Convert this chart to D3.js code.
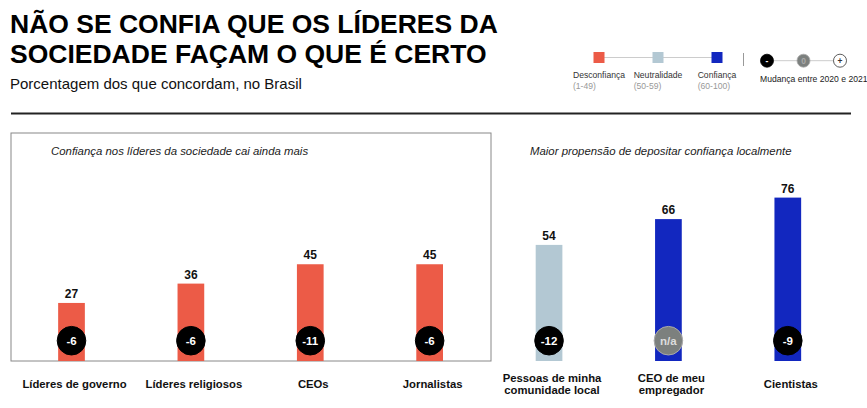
<!DOCTYPE html>
<html><head><meta charset="utf-8">
<script src="https://cdn.jsdelivr.net/npm/d3@7"></script>
<style>
body{margin:0;background:#fff;}
svg{display:block;font-family:"Liberation Sans",Arial,sans-serif;}
</style></head>
<body><svg id="c" width="867" height="408"></svg>
<script>
const categories = ["Líderes de governo","Líderes religiosos","CEOs","Jornalistas","Pessoas de minha\ncomunidade local","CEO de meu\nempregador","Cientistas"];
const values = [27,36,45,45,54,66,76];
const changes = ["-6","-6","-11","-6","-12","n/a","-9"];
const panelTitles = ["Confiança nos líderes da sociedade cai ainda mais","Maior propensão de depositar confiança localmente"];
const legendLabels = ["Desconfiança","Neutralidade","Confiança"];
const legendRanges = ["(1-49)","(50-59)","(60-100)"];
const changeLegend = ["-","0","+"];

const RED="#EC5B47", NEU="#B3C8D3", BLUE="#1227BF";
const color = v => v < 50 ? RED : (v < 60 ? NEU : BLUE);

const svg = d3.select("#c");

// Title
const title = svg.append("text").attr("x",10).attr("y",33).attr("font-size",26.5).attr("font-weight","bold").attr("fill","#000");
title.append("tspan").attr("x",10).attr("y",33).text("NÃO SE CONFIA QUE OS LÍDERES DA");
title.append("tspan").attr("x",10).attr("y",63).text("SOCIEDADE FAÇAM O QUE É CERTO");
svg.append("text").attr("x",10).attr("y",88.5).attr("font-size",15).attr("fill","#111").text("Porcentagem dos que concordam, no Brasil");

// Header rule
svg.append("line").attr("x1",11).attr("x2",851).attr("y1",113.5).attr("y2",113.5).attr("stroke","#222").attr("stroke-width",2);

// Legend
const lx = d3.scalePoint().domain(legendLabels).range([599,717]);
svg.append("line").attr("x1",599).attr("x2",717).attr("y1",57.5).attr("y2",57.5).attr("stroke","#ccc").attr("stroke-width",1);
const legCols=[RED,NEU,BLUE];
legendLabels.forEach((l,i)=>{
  const cx=lx(l);
  svg.append("rect").attr("x",cx-5.5).attr("y",52).attr("width",11).attr("height",11).attr("fill",legCols[i]);
  const t=svg.append("text").attr("x",cx).attr("y",78).attr("font-size",8.6).attr("fill","#333").attr("text-anchor","middle").text(l);
  const w=t.node().getComputedTextLength();
  svg.append("text").attr("x",cx-w/2).attr("y",88.5).attr("font-size",8.6).attr("fill","#999").text(legendRanges[i]);
});
svg.append("line").attr("x1",743.5).attr("x2",743.5).attr("y1",53).attr("y2",66).attr("stroke","#999").attr("stroke-width",1);
const cxs = d3.scalePoint().domain(changeLegend).range([767,840]);
svg.append("line").attr("x1",767).attr("x2",840).attr("y1",60.7).attr("y2",60.7).attr("stroke","#ccc");
changeLegend.forEach((s,i)=>{
  const cx=cxs(s);
  const fill = i===0?"#000":(i===1?"#7C807E":"#fff");
  const stroke = i===0?"#000":(i===1?"#aaa":"#333");
  svg.append("circle").attr("cx",cx).attr("cy",60.7).attr("r",6.5).attr("fill",fill).attr("stroke",stroke).attr("stroke-width",0.8);
  svg.append("text").attr("x",cx).attr("y",63.7).attr("text-anchor","middle").attr("font-size",8.5).attr("font-weight","bold")
    .attr("fill",i===2?"#333":(i===1?"#aaa":"#fff")).text(s);
});
svg.append("text").attr("x",760).attr("y",81.5).attr("font-size",8.6).attr("fill","#222").text("Mudança entre 2020 e 2021");

// Panel box (left)
svg.append("rect").attr("x",11).attr("y",133).attr("width",480).attr("height",228).attr("fill","none").attr("stroke","#888").attr("stroke-width",1);

svg.append("text").attr("x",51).attr("y",155).attr("font-size",11.4).attr("font-style","italic").attr("fill","#222").text(panelTitles[0]);
svg.append("text").attr("x",530).attr("y",155).attr("font-size",11.4).attr("font-style","italic").attr("fill","#222").text(panelTitles[1]);

// Scales
const x = d3.scalePoint().domain(categories).range([71.5,787.8]);
const y = d3.scaleLinear().domain([0,100]).range([361,146]);
const bw = 26.7;

const g = svg.append("g");
categories.forEach((c,i)=>{
  const cx=x(c), v=values[i];
  g.append("rect").attr("x",cx-bw/2).attr("y",y(v)).attr("width",bw).attr("height",y(0)-y(v)).attr("fill",color(v));
  g.append("text").attr("x",cx).attr("y",y(v)-5).attr("text-anchor","middle").attr("font-size",12).attr("font-weight","bold").attr("fill","#111").text(v);
  const na = changes[i]==="n/a";
  g.append("circle").attr("cx",cx).attr("cy",340.7).attr("r",14.3).attr("fill",na?"#7C807E":"#000").attr("stroke",na?"#aaa":"#000").attr("stroke-width",1);
  g.append("text").attr("x",cx).attr("y",344.7).attr("text-anchor","middle").attr("font-size",11.5).attr("font-weight","bold").attr("fill",na?"#ddd":"#fff").text(changes[i]);
  const lines=c.split("\n");
  const t=g.append("text").attr("text-anchor","middle").attr("font-size",11.3).attr("font-weight","bold").attr("fill","#111");
  const y0 = lines.length===1?387.5:381.5;
  lines.forEach((ln,j)=>t.append("tspan").attr("x",cx+3).attr("y",y0+j*12).text(ln));
});
</script></body></html>
